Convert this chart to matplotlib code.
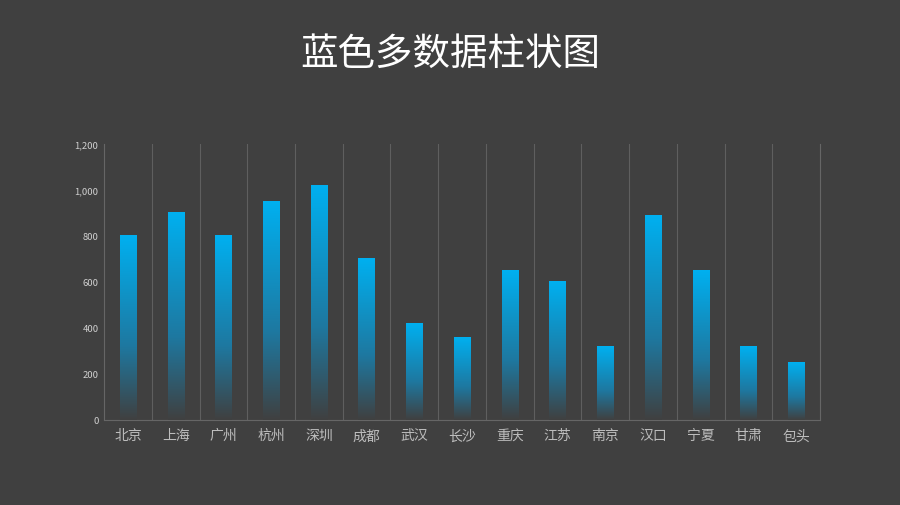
import numpy as np
import matplotlib.pyplot as plt

plt.rcParams['font.family'] = ['Noto Sans CJK SC', 'DejaVu Sans']

cities = ['北京', '上海', '广州', '杭州', '深圳', '成都', '武汉', '长沙',
          '重庆', '江苏', '南京', '汉口', '宁夏', '甘肃', '包头']
values = [800, 900, 800, 950, 1020, 700, 420, 360, 650, 600, 320, 890, 650, 320, 250]
yticks = [0, 200, 400, 600, 800, 1000, 1200]

bg = '#404040'
fig = plt.figure(figsize=(9, 5.06), dpi=100, facecolor=bg)
ax = fig.add_axes([0.1156, 0.168, 0.7956, 0.5455], facecolor=bg)

# vertical gradient for the bars: bright cyan at top, fading to background
n = 256
t = np.linspace(0, 1, n)[:, None]  # 0 = top, 1 = bottom
top = np.array([0, 176, 240]) / 255
mid = np.array([30, 120, 160]) / 255
bgc = np.array([64, 64, 64]) / 255
rgb = np.where(t < 0.6, top + (mid - top) * (t / 0.6),
               mid + (bgc - mid) * ((t - 0.6) / 0.4))
grad = np.dstack([rgb[:, 0:1], rgb[:, 1:2], rgb[:, 2:3]]).repeat(2, axis=1)

x = np.arange(len(cities))
w = 0.34
for xi, v in zip(x, values):
    ax.imshow(grad, extent=[xi - w / 2, xi + w / 2, 0, v], aspect='auto',
              interpolation='bilinear', zorder=3)

ax.set_xlim(-0.5, len(cities) - 0.5)
ax.set_ylim(0, 1200)
ax.set_xticks(x)
ax.set_xticklabels(cities, color='#bdbdbd', fontsize=10)
ax.set_yticks(yticks)
ax.set_yticklabels([f'{v:,}' for v in yticks], color='#d0d0d0', fontsize=6.8)
ax.tick_params(length=0, pad=4)
ax.tick_params(axis='x', pad=6)

for b in np.arange(0.5, len(cities) - 0.5, 1):
    ax.axvline(b, color='#5f5f5f', lw=0.8, zorder=1)
for s in ['left', 'bottom', 'right', 'top']:
    ax.spines[s].set_color('#666666')
ax.spines['top'].set_visible(False)

fig.text(0.5, 0.893, '蓝色多数据柱状图', ha='center', va='center',
         color='white', fontsize=27)

fig.savefig('out.png', dpi=100, facecolor=bg)
